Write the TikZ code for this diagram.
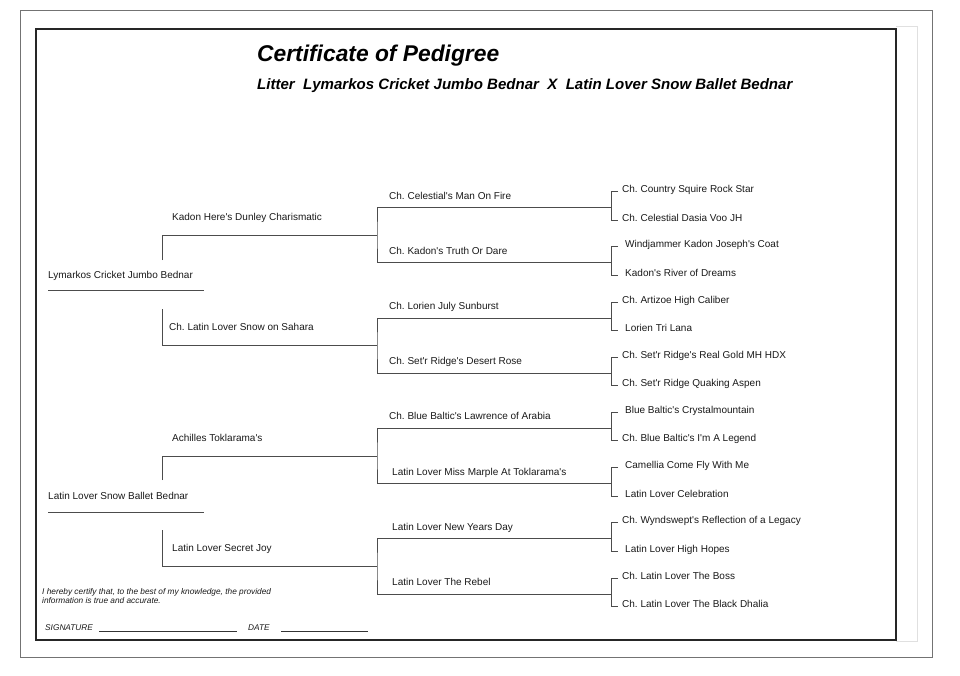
\documentclass[tikz,border=0pt]{standalone}
\usepackage{fontspec}
\setmainfont{Liberation Sans}[Ligatures=TeXOff]
\frenchspacing
\tikzset{
  line/.style={black!70, line width=0.9pt},
  dog/.style={anchor=base west, inner sep=0pt, text=black!90, font=\fontsize{10}{12}\selectfont},
  fine/.style={anchor=base west, inner sep=0pt, text=black!90, font=\fontsize{8.3}{10}\selectfont\itshape},
}
\begin{document}
\begin{tikzpicture}[x=1pt,y=-1pt]
    \useasboundingbox (0,0) rectangle (960,675);
    % frames
    \draw[black!55, line width=1pt] (20.5,10.5) rectangle (932,657);
    \draw[black!12] (896,26) -- (917,26) -- (917,641) -- (896,641);
    \draw[black!85, line width=2pt] (36,29) rectangle (896,640);
    % heading
    \node[anchor=base west, inner sep=0pt, font=\fontsize{22.8}{27}\selectfont\bfseries\itshape] (title) at (257,61) {Certificate of Pedigree};
    \node[anchor=base west, inner sep=0pt, font=\fontsize{15.05}{18}\selectfont\bfseries\itshape] (litter) at (257,89)
      {Litter\ \ Lymarkos Cricket Jumbo Bednar\ \ X\ \ Latin Lover Snow Ballet Bednar};
    % sire and dam of the litter
    \coordinate (sireL) at (48,290); \coordinate (sireR) at (204,290);
    \coordinate (damL) at (48,512);  \coordinate (damR) at (204,512);
    \draw[line] (sireL) -- (sireR); \draw[line] (damL) -- (damR);
    \node[dog] (sire) at (48,278.3) {Lymarkos Cricket Jumbo Bednar};
    \node[dog] (dam) at (48,499.3) {Latin Lover Snow Ballet Bednar};
    % second generation
    \coordinate (ss0) at (162,260); \coordinate (ssA) at (377,235.3);
    \coordinate (sd0) at (162,309); \coordinate (sdA) at (377,345.7);
    \coordinate (ds0) at (162,480); \coordinate (dsA) at (377,456.1);
    \coordinate (dd0) at (162,530); \coordinate (ddA) at (377,566.5);
    \draw[line] (ss0) |- (ssA); \draw[line] (sd0) |- (sdA);
    \draw[line] (ds0) |- (dsA); \draw[line] (dd0) |- (ddA);
    \node[dog] (ss) at (172,220.3) {Kadon Here's Dunley Charismatic};
    \node[dog] (sd) at (169,330.7) {Ch. Latin Lover Snow on Sahara};
    \node[dog] (ds) at (172,441.1) {Achilles Toklarama's};
    \node[dog] (dd) at (172,551.5) {Latin Lover Secret Joy};
    % third generation
    \coordinate (sssA) at (611,207.7); \coordinate (ssdA) at (611,262.9);
    \coordinate (sdsA) at (611,318.1); \coordinate (sddA) at (611,373.3);
    \coordinate (dssA) at (611,428.5); \coordinate (dsdA) at (611,483.7);
    \coordinate (ddsA) at (611,538.9); \coordinate (dddA) at (611,594.1);
    \draw[line] (sssA) -| (ssA) |- (ssdA); \draw[line] (sdsA) -| (sdA) |- (sddA);
    \draw[line] (dssA) -| (dsA) |- (dsdA); \draw[line] (ddsA) -| (ddA) |- (dddA);
    \node[dog] (sss) at (389,199.0) {Ch. Celestial's Man On Fire};
    \node[dog] (ssd) at (389,254.2) {Ch. Kadon's Truth Or Dare};
    \node[dog] (sds) at (389,309.4) {Ch. Lorien July Sunburst};
    \node[dog] (sdd) at (389,364.6) {Ch. Set'r Ridge's Desert Rose};
    \node[dog] (dss) at (389,419.8) {Ch. Blue Baltic's Lawrence of Arabia};
    \node[dog] (dsd) at (392,475.0) {Latin Lover Miss Marple At Toklarama's};
    \node[dog] (dds) at (392,530.2) {Latin Lover New Years Day};
    \node[dog] (ddd) at (392,585.4) {Latin Lover The Rebel};
    % fourth generation
    \coordinate (ssssT) at (618,191.7); \coordinate (sssdT) at (618,220.0);
    \coordinate (ssdsT) at (618,246.9); \coordinate (ssddT) at (618,275.2);
    \coordinate (sdssT) at (618,302.1); \coordinate (sdsdT) at (618,330.4);
    \coordinate (sddsT) at (618,357.3); \coordinate (sdddT) at (618,385.6);
    \coordinate (dsssT) at (618,412.5); \coordinate (dssdT) at (618,440.8);
    \coordinate (dsdsT) at (618,467.7); \coordinate (dsddT) at (618,496.0);
    \coordinate (ddssT) at (618,522.9); \coordinate (ddsdT) at (618,551.2);
    \coordinate (dddsT) at (618,578.1); \coordinate (ddddT) at (618,606.4);
    \draw[line] (ssssT) -| (sssA) |- (sssdT); \draw[line] (ssdsT) -| (ssdA) |- (ssddT);
    \draw[line] (sdssT) -| (sdsA) |- (sdsdT); \draw[line] (sddsT) -| (sddA) |- (sdddT);
    \draw[line] (dsssT) -| (dssA) |- (dssdT); \draw[line] (dsdsT) -| (dsdA) |- (dsddT);
    \draw[line] (ddssT) -| (ddsA) |- (ddsdT); \draw[line] (dddsT) -| (dddA) |- (ddddT);
    \node[dog] (ssss) at (622,192.7) {Ch. Country Squire Rock Star};
    \node[dog] (sssd) at (622,221.0) {Ch. Celestial Dasia Voo JH};
    \node[dog] (ssds) at (625,247.9) {Windjammer Kadon Joseph's Coat};
    \node[dog] (ssdd) at (625,276.2) {Kadon's River of Dreams};
    \node[dog] (sdss) at (622,303.1) {Ch. Artizoe High Caliber};
    \node[dog] (sdsd) at (625,331.4) {Lorien Tri Lana};
    \node[dog] (sdds) at (622,358.3) {Ch. Set'r Ridge's Real Gold MH HDX};
    \node[dog] (sddd) at (622,386.6) {Ch. Set'r Ridge Quaking Aspen};
    \node[dog] (dsss) at (625,413.5) {Blue Baltic's Crystalmountain};
    \node[dog] (dssd) at (622,441.8) {Ch. Blue Baltic's I'm A Legend};
    \node[dog] (dsds) at (625,468.7) {Camellia Come Fly With Me};
    \node[dog] (dsdd) at (625,497.0) {Latin Lover Celebration};
    \node[dog] (ddss) at (622,523.9) {Ch. Wyndswept's Reflection of a Legacy};
    \node[dog] (ddsd) at (625,552.2) {Latin Lover High Hopes};
    \node[dog] (ddds) at (622,579.1) {Ch. Latin Lover The Boss};
    \node[dog] (dddd) at (622,607.4) {Ch. Latin Lover The Black Dhalia};
    % statement and signature
    \node[fine] (oath1) at (42,594) {I hereby certify that, to the best of my knowledge, the provided};
    \node[fine] (oath2) at (42,603.5) {information is true and accurate.};
    \node[fine] (sign) at (45,630) {SIGNATURE};
    \node[fine] (date) at (248,630) {DATE};
    \coordinate (signA) at (99,631.5); \coordinate (signB) at (237,631.5);
    \coordinate (dateA) at (281,631.5); \coordinate (dateB) at (368,631.5);
    \draw[black!80, line width=0.7pt] (signA) -- (signB); \draw[black!80, line width=0.7pt] (dateA) -- (dateB);
  \end{tikzpicture}
\end{document}
